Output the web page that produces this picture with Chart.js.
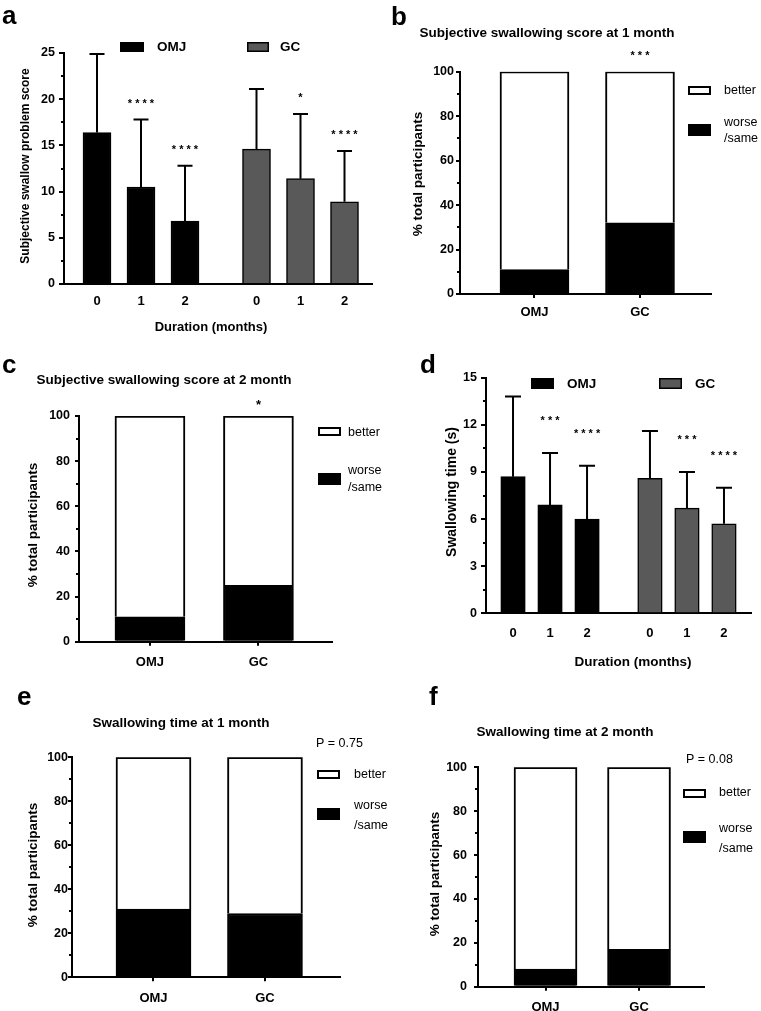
<!DOCTYPE html>
<html lang="en">
<head>
  <meta charset="UTF-8">
  <title>Swallowing outcomes</title>
  <script src="https://cdn.jsdelivr.net/npm/chart.js@4"></script>
  <style>
    body { margin: 0; background: #fff; }
    #fig { position: relative; width: 761px; height: 1011px; overflow: hidden; }
    #fig canvas { position: absolute; left: 0; top: 0; }
  </style>
</head>
<body>
<div id="fig">
  <canvas id="chartA" width="761" height="1040"></canvas>
  <canvas id="chartB" width="761" height="1040"></canvas>
  <canvas id="chartC" width="761" height="1040"></canvas>
  <canvas id="chartD" width="761" height="1040"></canvas>
  <canvas id="chartE" width="761" height="1040"></canvas>
  <canvas id="chartF" width="761" height="1040"></canvas>
</div>

<script>
// ---- data ----
const durations = ['0', '1', '2'];
const groups = ['OMJ', 'GC'];

// a: subjective swallow problem score, mean and SD
const scoreOMJ = [16.4, 10.5, 6.8];
const scoreOMJsd = [8.5, 7.3, 6.0];
const scoreGC = [14.6, 11.4, 8.9];
const scoreGCsd = [6.5, 7.0, 5.5];
const scoreOMJstars = ['', '****', '****'];
const scoreGCstars = ['', '*', '****'];

// d: swallowing time (s), mean and SD
const timeOMJ = [8.7, 6.9, 6.0];
const timeOMJsd = [5.1, 3.3, 3.4];
const timeGC = [8.6, 6.7, 5.7];
const timeGCsd = [3.0, 2.3, 2.3];
const timeOMJstars = ['', '***', '****'];
const timeGCstars = ['', '***', '****'];

// b, c, e, f: % of participants (worse/same vs better)
const score1mWorse = [11, 32];
const score1mBetter = [89, 68];
const score1mStars = ['', '***'];
const score2mWorse = [11, 25];
const score2mBetter = [89, 75];
const score2mStars = ['', '*'];
const time1mWorse = [31, 29];
const time1mBetter = [69, 71];
const time2mWorse = [8, 17];
const time2mBetter = [92, 83];

const yTicksScore = [0, 25, 5];
const yTicksTime = [0, 15, 3];
const yTicksPct = [0, 100, 20];

// ---- layout helpers ----
const FONT = "'Liberation Sans', Arial, sans-serif";
const FIG_W = 761, FIG_H = 1040, YAX_W = 45, XAX_H = 40;
const GRAY = '#595959';

Chart.defaults.font.family = FONT;
Chart.defaults.color = '#000';

function areaPadding(a) {
  return { left: a.l - YAX_W, top: a.t, right: FIG_W - a.r, bottom: FIG_H - a.b - XAX_H };
}

function yAxis(t, pad, tickLen, stacked) {
  return {
    min: t[0], max: t[1], bounds: 'data', stacked: stacked, clip: false,
    ticks: { stepSize: t[2], padding: pad, color: '#000', font: { size: 12.5, weight: 'bold' } },
    grid: { offset: false, drawOnChartArea: false, drawTicks: true, tickLength: tickLen, color: '#000', lineWidth: 2 },
    border: { color: '#000', width: 2 },
    afterFit: s => { s.width = YAX_W; }
  };
}

function xAxis(min, max, at, labels, pad, withTicks) {
  return {
    type: 'linear', min: min, max: max, bounds: 'data', offset: false, stacked: true, clip: false,
    afterBuildTicks: s => { s.ticks = at.map(v => ({ value: v })); },
    ticks: {
      autoSkip: false, maxRotation: 0, padding: pad, color: '#000',
      font: { size: 13, weight: 'bold' },
      callback: (v, i) => labels[i]
    },
    grid: { display: withTicks, offset: false, drawOnChartArea: false, drawTicks: withTicks, tickLength: 4, color: '#000', lineWidth: 2 },
    border: { color: '#000', width: 2 },
    afterFit: s => { s.height = XAX_H; }
  };
}

// free text + legend swatches
const figText = {
  id: 'figText',
  afterDraw(chart, args, opts) {
    const ctx = chart.ctx;
    ctx.save();
    (opts.boxes || []).forEach(b => {
      ctx.fillStyle = '#000';
      ctx.fillRect(b.x, b.y, b.w, b.h);
      if (b.fill) {
        const k = b.inset || 2;
        ctx.fillStyle = b.fill;
        ctx.fillRect(b.x + k, b.y + k, b.w - 2 * k, b.h - 2 * k);
      }
    });
    (opts.texts || []).forEach(t => {
      ctx.save();
      ctx.font = t.font + ' ' + FONT;
      ctx.fillStyle = '#000';
      ctx.textAlign = t.align || 'left';
      ctx.textBaseline = t.base || 'middle';
      ctx.translate(t.x, t.y);
      if (t.rot) ctx.rotate(-Math.PI / 2);
      ctx.fillText(t.text, 0, 0);
      ctx.restore();
    });
    ctx.restore();
  }
};

// error bars (upper only) and significance stars
const barExtras = {
  id: 'barExtras',
  afterDatasetsDraw(chart, args, opts) {
    const { ctx, scales: { x, y } } = chart;
    ctx.save();
    ctx.strokeStyle = '#000';
    ctx.fillStyle = '#000';
    ctx.lineWidth = 2;
    chart.data.datasets.forEach((ds, di) => {
      const meta = chart.getDatasetMeta(di);
      ds.data.forEach((p, i) => {
        const px = x.getPixelForValue(p.x);
        let top = meta.data[i].y;
        if (ds.sd) {
          const y1 = y.getPixelForValue(p.y + ds.sd[i]);
          ctx.beginPath();
          ctx.moveTo(px, top);
          ctx.lineTo(px, y1);
          ctx.moveTo(px - opts.cap / 2, y1);
          ctx.lineTo(px + opts.cap / 2, y1);
          ctx.stroke();
          top = y1;
        }
        if (ds.stars && ds.stars[i]) {
          ctx.font = opts.starFont + ' ' + FONT;
          ctx.textAlign = 'center';
          ctx.textBaseline = 'middle';
          ctx.fillText(ds.stars[i].split('').join(' '), px, top - opts.starGap);
        }
      });
    });
    ctx.restore();
  }
};

const minorTicks = {
  id: 'minorTicks',
  afterDraw(chart, args, opts) {
    const y = chart.scales.y, ctx = chart.ctx, x0 = chart.chartArea.left;
    ctx.save();
    ctx.strokeStyle = '#000';
    ctx.lineWidth = 2;
    for (let v = y.min + opts.major / 2; v < y.max; v += opts.major) {
      const py = Math.round(y.getPixelForValue(v));
      ctx.beginPath();
      ctx.moveTo(x0 - opts.len, py);
      ctx.lineTo(x0, py);
      ctx.stroke();
    }
    ctx.restore();
  }
};

// grouped bar panel with error bars (a, d)
function barPanel(id, p) {
  const omjX = durations.map((d, i) => i);
  const gcX = durations.map((d, i) => i + durations.length + p.gap);
  new Chart(document.getElementById(id), {
    type: 'bar',
    data: {
      datasets: [
        { label: groups[0], data: omjX.map((x, i) => ({ x: x, y: p.omj[i] })), sd: p.omjSd, stars: p.omjStars,
          backgroundColor: '#000', borderColor: '#000', borderWidth: 1.5, barThickness: p.barW },
        { label: groups[1], data: gcX.map((x, i) => ({ x: x, y: p.gc[i] })), sd: p.gcSd, stars: p.gcStars,
          backgroundColor: GRAY, borderColor: '#000', borderWidth: 1.5, barThickness: p.barW }
      ]
    },
    options: {
      responsive: false, animation: false, events: [],
      layout: { padding: areaPadding(p.area) },
      scales: {
        x: xAxis(p.xMin, p.xMax, omjX.concat(gcX), durations.concat(durations), p.xPad, false),
        y: yAxis(p.yTicks, p.yPad, 5, false)
      },
      plugins: {
        legend: { display: false }, tooltip: { enabled: false },
        barExtras: { cap: p.cap, starGap: p.starGap, starFont: 'bold 11px' },
        minorTicks: { major: p.yTicks[2], len: 3 },
        figText: { texts: p.texts, boxes: p.boxes }
      }
    },
    plugins: [barExtras, minorTicks, figText]
  });
}

// stacked percentage panel (b, c, e, f)
function pctPanel(id, p) {
  const xs = groups.map((g, i) => i);
  new Chart(document.getElementById(id), {
    type: 'bar',
    data: {
      datasets: [
        { label: 'worse/same', data: xs.map((x, i) => ({ x: x, y: p.worse[i] })),
          backgroundColor: '#000', borderColor: '#000', borderWidth: 2, barThickness: p.barW },
        { label: 'better', data: xs.map((x, i) => ({ x: x, y: p.better[i] })), stars: p.stars,
          backgroundColor: '#fff', borderColor: '#000', borderWidth: 2, barThickness: p.barW }
      ]
    },
    options: {
      responsive: false, animation: false, events: [],
      layout: { padding: areaPadding(p.area) },
      scales: {
        x: xAxis(p.xMin, p.xMax, xs, groups, p.xPad, true),
        y: yAxis(yTicksPct, p.yPad, 4, true)
      },
      plugins: {
        legend: { display: false }, tooltip: { enabled: false },
        barExtras: { cap: 0, starGap: p.starGap || 14, starFont: p.starFont || 'bold 11px' },
        minorTicks: { major: yTicksPct[2], len: 3 },
        figText: { texts: p.texts, boxes: p.boxes }
      }
    },
    plugins: [barExtras, minorTicks, figText]
  });
}

function legendPct(x, yb, yw, tx, ty) {
  return {
    boxes: [{ x: x, y: yb, w: 23, h: 9, fill: '#fff' }, { x: x, y: yw, w: 23, h: 12 }],
    texts: [
      { text: 'better', x: tx, y: ty[0], font: '12.5px' },
      { text: 'worse', x: tx, y: ty[1], font: '12.5px' },
      { text: '/same', x: tx, y: ty[2], font: '12.5px' }
    ]
  };
}

// ---- panel a ----
barPanel('chartA', {
  area: { l: 64, r: 372, t: 53, b: 284 },
  xMin: -0.75, xMax: 6.25, gap: 0.625, barW: 28, cap: 15, starGap: 16, xPad: 10, yPad: 4,
  yTicks: yTicksScore,
  omj: scoreOMJ, omjSd: scoreOMJsd, omjStars: scoreOMJstars,
  gc: scoreGC, gcSd: scoreGCsd, gcStars: scoreGCstars,
  boxes: [{ x: 120, y: 42, w: 24, h: 10 }, { x: 247, y: 42, w: 22, h: 10, fill: GRAY, inset: 1.5 }],
  texts: [
    { text: 'a', x: 2, y: 24, font: 'bold 26px', base: 'alphabetic' },
    { text: groups[0], x: 157, y: 47, font: 'bold 13.5px' },
    { text: groups[1], x: 280, y: 47, font: 'bold 13.5px' },
    { text: 'Subjective swallow problem score', x: 26, y: 166, font: 'bold 12px', align: 'center', rot: true },
    { text: 'Duration (months)', x: 211, y: 327, font: 'bold 13px', align: 'center' }
  ]
});

// ---- panel b ----
const legB = legendPct(688, 86, 124, 724, [91, 123, 139]);
pctPanel('chartB', {
  area: { l: 460, r: 711, t: 71.7, b: 294 },
  xMin: -0.706, xMax: 1.673, barW: 69, xPad: 7, yPad: 2,
  worse: score1mWorse, better: score1mBetter, stars: score1mStars, starGap: 16,
  boxes: legB.boxes,
  texts: legB.texts.concat([
    { text: 'b', x: 391, y: 25, font: 'bold 26px', base: 'alphabetic' },
    { text: 'Subjective swallowing score at 1 month', x: 547, y: 33, font: 'bold 13.5px', align: 'center' },
    { text: '% total participants', x: 418, y: 174, font: 'bold 13.5px', align: 'center', rot: true }
  ])
});

// ---- panel c ----
const legC = legendPct(318, 427, 473, 348, [433, 471, 488]);
pctPanel('chartC', {
  area: { l: 79, r: 332, t: 416, b: 641.7 },
  xMin: -0.654, xMax: 1.678, barW: 70, xPad: 8.5, yPad: 5,
  worse: score2mWorse, better: score2mBetter, stars: score2mStars, starGap: 11, starFont: 'bold 13px',
  boxes: legC.boxes,
  texts: legC.texts.concat([
    { text: 'c', x: 2, y: 373, font: 'bold 26px', base: 'alphabetic' },
    { text: 'Subjective swallowing score at 2 month', x: 164, y: 380, font: 'bold 13.5px', align: 'center' },
    { text: '% total participants', x: 33, y: 525, font: 'bold 13.5px', align: 'center', rot: true }
  ])
});

// ---- panel d ----
barPanel('chartD', {
  area: { l: 486, r: 751, t: 377.7, b: 613.3 },
  xMin: -0.73, xMax: 6.43, gap: 0.70, barW: 24.5, cap: 16, starGap: 32, xPad: 12.5, yPad: 4,
  yTicks: yTicksTime,
  omj: timeOMJ, omjSd: timeOMJsd, omjStars: timeOMJstars,
  gc: timeGC, gcSd: timeGCsd, gcStars: timeGCstars,
  boxes: [{ x: 531, y: 378, w: 23, h: 11 }, { x: 659, y: 378, w: 23, h: 11, fill: GRAY, inset: 1.5 }],
  texts: [
    { text: 'd', x: 420, y: 373, font: 'bold 26px', base: 'alphabetic' },
    { text: groups[0], x: 567, y: 384, font: 'bold 13.5px' },
    { text: groups[1], x: 695, y: 384, font: 'bold 13.5px' },
    { text: 'Swallowing time (s)', x: 452, y: 492, font: 'bold 14px', align: 'center', rot: true },
    { text: 'Duration (months)', x: 633, y: 662, font: 'bold 13.5px', align: 'center' }
  ]
});

// ---- panel e ----
const legE = legendPct(317, 770, 808, 354, [775, 806, 826]);
pctPanel('chartE', {
  area: { l: 72, r: 340, t: 757.3, b: 977.3 },
  xMin: -0.731, xMax: 1.673, barW: 75, xPad: 9, yPad: 0,
  worse: time1mWorse, better: time1mBetter,
  boxes: legE.boxes,
  texts: legE.texts.concat([
    { text: 'e', x: 17, y: 705, font: 'bold 26px', base: 'alphabetic' },
    { text: 'Swallowing time at 1 month', x: 181, y: 723, font: 'bold 13.5px', align: 'center' },
    { text: 'P = 0.75', x: 316, y: 744, font: '12.5px' },
    { text: '% total participants', x: 33, y: 865, font: 'bold 13.5px', align: 'center', rot: true }
  ])
});

// ---- panel f ----
const legF = legendPct(683, 789, 831, 719, [793, 829, 849]);
pctPanel('chartF', {
  area: { l: 478, r: 704, t: 767.3, b: 986.7 },
  xMin: -0.722, xMax: 1.695, barW: 63, xPad: 8.5, yPad: 7,
  worse: time2mWorse, better: time2mBetter,
  boxes: legF.boxes,
  texts: legF.texts.concat([
    { text: 'f', x: 429, y: 705, font: 'bold 26px', base: 'alphabetic' },
    { text: 'Swallowing time at 2 month', x: 565, y: 732, font: 'bold 13.5px', align: 'center' },
    { text: 'P = 0.08', x: 686, y: 760, font: '12.5px' },
    { text: '% total participants', x: 435, y: 874, font: 'bold 13.5px', align: 'center', rot: true }
  ])
});
</script>
</body>
</html>
